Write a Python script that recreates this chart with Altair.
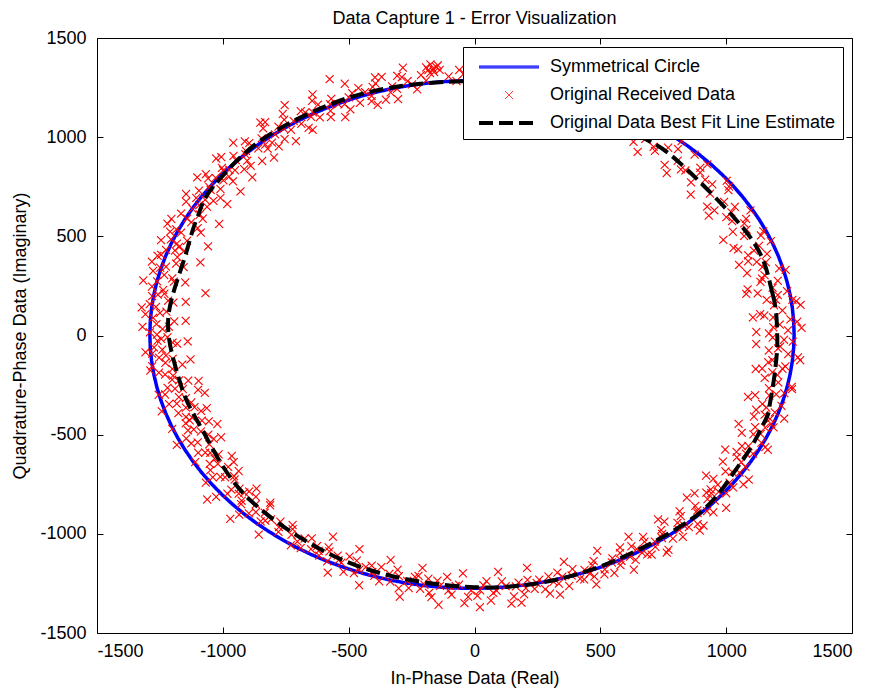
import altair as alt
import numpy as np
import pandas as pd

FONT = "Liberation Sans"
SERIES = ["Symmetrical Circle", "Original Received Data", "Original Data Best Fit Line Estimate"]
COLORS = ["#0000ff", "#ff0000", "#000000"]
X_PATH = "M-0.8,-0.8L0.8,0.8M-0.8,0.8L0.8,-0.8"
SOLID_PATH = "M-6,-0.2H6M-6,0H6M-6,0.2H6"
THICK_PATH = "M-6,-0.3H6M-6,-0.1H6M-6,0.1H6M-6,0.3H6"
SHAPES = [SOLID_PATH, X_PATH, THICK_PATH]
DASHES = [[1, 0], [1, 0], [14, 6]]
TICKS = [-1500, -1000, -500, 0, 500, 1000, 1500]

# Symmetrical circle (center and radius)
circle_center = (-10, 5)
circle_radius = 1280
circle_deg = list(range(0, 361, 3))

# Best-fit line: radius at angle (deg)
fit_deg = [0, 10, 24, 47, 58, 75, 90, 110, 129, 144, 152, 160, 176, 190, 202, 223,
           247, 270, 290, 313, 329, 340, 344, 352]
fit_r = [1203, 1203, 1203, 1193, 1201, 1245, 1282, 1298, 1300, 1281, 1250, 1219, 1220,
         1195, 1182, 1218, 1250, 1269, 1270, 1265, 1237, 1232, 1222, 1207]

# Received data points (angle deg, radius)
pts_deg = [
    0.5, 1.2, 2.6, 3.1, 4.4, 5.0, 5.9, 7.3, 8.1, 8.8, 9.6,
    10.7, 11.5, 12.9, 13.4, 14.8, 15.6, 16.2, 17.7, 18.3, 19.5,
    20.4, 21.8, 22.5, 23.9, 25.1, 26.3, 27.0, 28.6, 29.4,
    30.8, 32.1, 33.5, 34.2, 36.0, 37.4, 38.9,
    40.6, 41.9, 43.3, 44.8, 46.2, 47.5, 48.7,
    50.9, 52.4, 54.0, 55.6, 57.1, 58.8,
    61.2, 63.5, 65.8, 67.4, 69.0,
    71.3, 73.9, 76.2, 78.5,
    80.7, 82.9, 84.6, 86.3, 88.1, 89.4,
    90.6, 91.8, 93.2, 94.5, 95.9, 96.4, 96.9, 97.3, 97.8, 98.5, 99.2,
    100.4, 101.7, 102.5, 103.9, 104.6, 105.8, 106.5, 107.9, 108.7, 109.5,
    110.3, 111.2, 112.6, 113.4, 114.0, 114.9, 115.5, 116.8, 117.4, 118.6, 119.7,
    120.5, 121.4, 122.2, 123.6, 124.3, 125.1, 126.5, 127.3, 128.0, 128.8, 129.6,
    130.4, 131.1, 132.3, 133.0, 133.8, 134.9, 135.7, 136.6, 137.5, 138.2, 139.4,
    140.2, 141.0, 141.9, 142.7, 143.8, 144.6, 145.5, 146.3, 147.4, 148.6, 149.5,
    150.3, 151.4, 152.2, 153.1, 154.5, 155.2, 156.0, 157.3, 158.1, 159.2,
    160.6, 161.5, 162.3, 163.4, 164.2, 165.7, 166.5, 167.8, 168.7, 169.5,
    170.3, 171.2, 172.1, 173.5, 174.4, 175.3, 176.6, 177.4, 178.5, 179.3,
    180.4, 181.2, 182.0, 183.3, 184.1, 185.6, 186.4, 187.2, 188.5, 189.6,
    190.5, 191.3, 192.2, 193.1, 194.0, 194.8, 195.9, 196.7, 197.6, 198.4, 199.3,
    200.2, 201.1, 202.3, 203.0, 204.4, 205.3, 206.1, 207.5, 208.3, 209.4,
    210.5, 211.6, 212.4, 213.7, 214.5, 215.8, 216.6, 217.9, 218.8, 219.6,
    220.4, 221.3, 222.5, 223.6, 224.4, 225.7, 226.5, 227.8, 228.9,
    230.6, 231.8, 232.9, 234.1, 235.4, 236.6, 237.7, 238.9,
    240.3, 241.5, 242.8, 243.9, 245.2, 246.4, 247.6, 248.8, 249.7,
    250.6, 251.8, 253.0, 254.3, 255.5, 256.7, 257.8, 259.0,
    260.4, 261.5, 262.6, 263.8, 264.9, 266.0, 267.2, 268.3, 269.4,
    270.5, 271.6, 272.8, 273.9, 275.0, 276.2, 277.4, 278.6, 279.7,
    280.6, 281.8, 283.0, 284.2, 285.4, 286.6, 287.7, 288.9,
    290.3, 291.4, 292.6, 293.7, 294.9, 296.0, 297.2, 298.4, 299.5,
    300.4, 301.3, 302.5, 303.4, 304.6, 305.5, 306.7, 307.6, 308.8, 309.7,
    310.5, 311.4, 312.6, 313.5, 314.7, 315.6, 316.8, 317.7, 318.9, 319.8,
    320.4, 321.5, 322.7, 323.8, 324.9, 326.1, 327.2, 328.4, 329.5,
    330.6, 331.7, 332.9, 334.0, 335.2, 336.4, 337.5, 338.7, 339.8,
    340.3, 341.5, 342.6, 343.8, 344.9, 346.1, 347.2, 348.4, 349.5,
    350.6, 351.7, 352.8, 354.0, 355.1, 356.3, 357.4, 358.6, 359.5,
    0.9, 2.0, 3.7, 5.4, 6.8, 8.5,
    10.2, 12.1, 14.1, 16.8, 19.0,
    21.1, 23.2, 24.6, 27.8,
    31.3, 35.1, 37.9,
    42.5, 45.6, 49.3,
    53.2, 56.4, 59.5,
    62.3, 66.5,
    92.6, 96.1, 97.0, 97.6, 98.1,
    101.1, 103.2, 105.2, 107.2, 109.1,
    111.7, 113.9, 116.2, 118.1, 119.2,
    120.9, 122.8, 124.8, 126.0, 127.7, 129.2,
    130.8, 132.7, 134.3, 136.1, 137.0, 138.8, 139.9,
    140.6, 142.3, 143.2, 145.0, 146.8, 147.9, 149.0,
    150.8, 152.7, 153.8, 155.7, 156.6, 158.6, 159.7,
    160.2, 161.9, 163.0, 164.7, 166.1, 167.2, 169.1,
    170.7, 171.8, 173.0, 174.8, 176.0, 177.9, 179.8,
    180.8, 181.7, 182.7, 184.7, 185.1, 186.9, 188.0, 189.1,
    190.9, 192.7, 193.6, 195.4, 196.2, 198.0, 199.7,
    200.7, 201.6, 202.8, 204.0, 205.8, 206.7, 208.9,
    211.0, 212.9, 214.1, 215.2, 217.3, 219.1,
    220.9, 222.0, 223.1, 225.0, 227.0, 228.3,
    231.2, 233.5, 235.9, 237.2, 239.5,
    240.9, 242.1, 244.5, 246.0, 248.2,
    251.2, 252.4, 254.9, 256.1, 258.4, 259.6,
    261.0, 262.1, 263.2, 265.4, 266.6, 268.9,
    271.0, 272.2, 273.3, 275.6, 276.8, 278.0, 279.1,
    281.2, 282.4, 283.6, 285.0, 286.0, 288.3, 289.5,
    290.9, 292.0, 293.2, 295.5, 296.6, 297.8, 299.0,
    300.9, 301.9, 303.0, 304.0, 306.1, 307.1, 309.2,
    311.0, 312.0, 313.0, 315.1, 316.2, 318.3, 319.3,
    320.9, 322.1, 323.3, 325.5, 326.7, 328.9,
    331.1, 332.3, 334.6, 335.8, 338.1, 339.3,
    340.9, 342.0, 343.2, 345.5, 346.7, 348.9,
    351.1, 352.2, 353.4, 355.7, 356.9, 359.0,
    161.3, 163.8, 166.9, 168.1, 171.6, 173.9, 176.3, 178.1, 181.5, 183.7,
    186.1, 187.8, 191.8, 193.4, 195.1, 197.1, 199.0, 201.4, 203.6, 205.0,
    207.0, 209.9, 212.2, 214.8, 216.1, 218.4, 221.7, 224.0, 226.1, 229.5,
    101.9, 104.3, 106.9, 108.3, 112.1, 115.0, 117.9, 121.8, 123.0, 125.9,
    128.4, 131.6, 134.6, 137.9, 139.0, 142.0, 144.1, 146.0, 148.1, 151.0,
    154.0, 157.0, 158.9,
    241.0, 244.0, 247.0, 250.0, 253.6, 257.3, 260.0, 264.0, 267.8, 270.9,
    274.5, 277.9, 280.1, 284.6, 287.3, 291.1, 294.2, 298.2,
    301.1, 304.9, 308.2, 312.3, 315.9, 319.0, 322.5, 326.3, 330.0, 333.7,
    337.0, 341.2, 344.1,
    347.9, 351.4, 354.5, 357.8, 1.7, 4.7, 7.7, 11.0, 15.0, 18.7,
    22.0, 26.0, 29.9, 33.0, 36.6, 39.6, 43.0, 47.0, 50.0, 55.0,
]
pts_r = [
    1170, 1246, 1214, 1284, 1190, 1156, 1230, 1200, 1276, 1175, 1222,
    1145, 1209, 1236, 1168, 1192, 1257, 1128, 1215, 1181, 1233,
    1160, 1218, 1134, 1245, 1183, 1206, 1152, 1229, 1175,
    1165, 1221, 1143, 1199, 1247, 1178, 1214,
    1207, 1156, 1233, 1181, 1264, 1195, 1145,
    1220, 1175, 1249, 1201, 1163, 1232,
    1190, 1245, 1221, 1276, 1204,
    1228, 1285, 1257, 1305,
    1298, 1260, 1333, 1288, 1316, 1370,
    1296, 1322, 1285, 1310, 1346, 1362, 1338, 1378, 1351, 1300, 1330,
    1262, 1310, 1334, 1281, 1298, 1355, 1240, 1317, 1275, 1302,
    1330, 1258, 1301, 1242, 1415, 1286, 1322, 1269, 1240, 1348, 1295,
    1280, 1325, 1237, 1298, 1352, 1268, 1310, 1245, 1287, 1340, 1262,
    1305, 1250, 1276, 1338, 1219, 1290, 1262, 1318, 1241, 1350, 1283,
    1300, 1235, 1268, 1342, 1251, 1293, 1225, 1316, 1270, 1245, 1330,
    1290, 1230, 1318, 1262, 1205, 1344, 1276, 1238, 1300, 1256,
    1300, 1245, 1322, 1206, 1274, 1318, 1235, 1290, 1090, 1258,
    1250, 1296, 1208, 1274, 1230, 1312, 1195, 1265, 1240, 1290,
    1220, 1260, 1182, 1243, 1284, 1205, 1236, 1170, 1268, 1215,
    1222, 1160, 1248, 1190, 1132, 1215, 1262, 1175, 1203, 1240, 1151,
    1196, 1230, 1141, 1212, 1258, 1170, 1225, 1188, 1247, 1205,
    1180, 1235, 1208, 1150, 1262, 1222, 1190, 1346, 1240, 1212,
    1230, 1192, 1258, 1340, 1216, 1244, 1180, 1265, 1230,
    1215, 1260, 1198, 1240, 1285, 1226, 1210, 1258,
    1250, 1215, 1280, 1236, 1262, 1300, 1228, 1268, 1245,
    1230, 1275, 1296, 1248, 1220, 1310, 1266, 1240,
    1295, 1240, 1330, 1270, 1222, 1310, 1258, 1350, 1286,
    1312, 1260, 1338, 1290, 1245, 1360, 1276, 1320, 1250,
    1300, 1258, 1335, 1281, 1240, 1318, 1270, 1296,
    1260, 1305, 1232, 1288, 1320, 1250, 1278, 1215, 1300,
    1232, 1282, 1310, 1217, 1262, 1327, 1248, 1292, 1204, 1274,
    1242, 1288, 1204, 1322, 1260, 1228, 1302, 1182, 1267, 1232,
    1218, 1278, 1193, 1256, 1306, 1233, 1174, 1264, 1210,
    1195, 1257, 1223, 1285, 1170, 1241, 1207, 1275, 1183,
    1247, 1180, 1215, 1270, 1155, 1235, 1200, 1287, 1173,
    1220, 1155, 1245, 1190, 1290, 1172, 1216, 1265, 1185,
    1120, 1188, 1258, 1140, 1305, 1212,
    1262, 1110, 1178, 1195, 1150,
    1190, 1120, 1262, 1212,
    1195, 1130, 1270,
    1216, 1172, 1240,
    1188, 1270, 1205,
    1232, 1180,
    1340, 1370, 1355, 1335, 1365,
    1290, 1345, 1270, 1330, 1250,
    1315, 1275, 1300, 1320, 1260,
    1310, 1270, 1325, 1290, 1360, 1230,
    1272, 1320, 1300, 1234, 1296, 1265, 1312,
    1262, 1300, 1322, 1280, 1240, 1305, 1276,
    1250, 1285, 1226, 1300, 1318, 1270, 1230,
    1265, 1310, 1240, 1295, 1270, 1225, 1305,
    1275, 1230, 1300, 1255, 1280, 1215, 1262,
    1245, 1200, 1275, 1230, 1258, 1290, 1212, 1245,
    1195, 1220, 1265, 1190, 1232, 1170, 1218,
    1210, 1165, 1235, 1190, 1250, 1160, 1222,
    1205, 1250, 1182, 1236, 1198, 1265,
    1210, 1245, 1190, 1268, 1222, 1250,
    1240, 1215, 1255, 1275, 1232,
    1270, 1232, 1255, 1220, 1290,
    1260, 1225, 1285, 1250, 1300, 1232,
    1272, 1310, 1245, 1290, 1265, 1318,
    1285, 1240, 1300, 1270, 1325, 1258, 1290,
    1272, 1310, 1250, 1295, 1265, 1240, 1305,
    1285, 1250, 1310, 1268, 1295, 1240, 1275,
    1255, 1300, 1240, 1285, 1265, 1230, 1310,
    1270, 1225, 1300, 1250, 1280, 1240, 1215,
    1250, 1225, 1282, 1210, 1260, 1238,
    1232, 1200, 1262, 1215, 1245, 1260,
    1220, 1255, 1195, 1210, 1265, 1230,
    1198, 1235, 1175, 1250, 1208, 1230,
    1150, 1335, 1180, 1345, 1160, 1330, 1150, 1320, 1140, 1310,
    1135, 1300, 1120, 1290, 1110, 1300, 1125, 1290, 1115, 1305,
    1130, 1280, 1140, 1300, 1160, 1310, 1160, 1300, 1170, 1320,
    1380, 1230, 1360, 1225, 1370, 1215, 1375, 1220, 1385, 1210,
    1370, 1200, 1365, 1190, 1360, 1180, 1360, 1185, 1350, 1160,
    1340, 1150, 1335,
    1160, 1330, 1170, 1340, 1180, 1350, 1190, 1365, 1200, 1370,
    1195, 1360, 1190, 1350, 1195, 1345, 1190, 1340,
    1185, 1335, 1180, 1330, 1175, 1325, 1160, 1310, 1150, 1300,
    1140, 1300, 1130,
    1290, 1130, 1300, 1120, 1300, 1110, 1290, 1100, 1280, 1110,
    1270, 1100, 1265, 1110, 1260, 1115, 1265, 1120, 1280, 1130,
]


def polar_frame(deg, rad, series, cx=0.0, cy=0.0):
    a = np.radians(np.asarray(deg, dtype=float))
    r = np.asarray(rad, dtype=float)
    return pd.DataFrame({
        "x": cx + r * np.cos(a),
        "y": cy + r * np.sin(a),
        "ord": np.arange(len(a)),
        "series": series,
    })


circle_df = polar_frame(circle_deg, [circle_radius] * len(circle_deg), SERIES[0], *circle_center)
pts_df = polar_frame(pts_deg, pts_r, SERIES[1])
fit_df = polar_frame(fit_deg, fit_r, SERIES[2])

legend = alt.Legend(title=" ", titleFontSize=1, titlePadding=3, orient="top-right", offset=9,
                    symbolStrokeWidth=1, labelLimit=500, symbolOpacity=1)
color = alt.Color("series:N", scale=alt.Scale(domain=SERIES, range=COLORS), legend=legend)
dash = alt.StrokeDash("series:N", scale=alt.Scale(domain=SERIES, range=DASHES), legend=legend)
shape = alt.Shape("series:N", scale=alt.Scale(domain=SERIES, range=SHAPES), legend=legend)

xs = alt.Scale(domain=[-1500, 1500], nice=False, zero=False)
ys = alt.Scale(domain=[-1500, 1500], nice=False, zero=False)

common_axis = dict(values=TICKS, tickSize=6, offset=-6, domain=False, grid=False,
                   tickColor="black", tickWidth=1, labelColor="black", labelFont=FONT,
                   labelFontSize=18, titleFont=FONT, titleFontSize=18,
                   titleFontWeight="normal", titleColor="black",
                   labelExpr="'' + datum.value")

x_bottom = alt.Axis(orient="bottom", labelPadding=9, title="In-Phase Data (Real)",
                    titleY=51, titleBaseline="middle", **common_axis)
y_left = alt.Axis(orient="left", labelPadding=11, title="Quadrature-Phase Data (Imaginary)",
                  titleX=-83, titleAngle=270, titleBaseline="middle", **common_axis)
top_axis = dict(common_axis)
top_axis.pop("labelExpr")
x_top = alt.Axis(orient="top", labels=False, title=None, **top_axis)
y_right = alt.Axis(orient="right", labels=False, title=None, **top_axis)

circle_layer = alt.Chart(circle_df).mark_line(strokeCap="butt", strokeWidth=3.5).encode(
    x=alt.X("x:Q", scale=xs, axis=x_bottom),
    y=alt.Y("y:Q", scale=ys, axis=y_left),
    order="ord:Q",
    color=color, strokeDash=dash,
)

pts_layer = alt.Chart(pts_df).mark_point(filled=False, size=100, opacity=1, strokeWidth=1.1).encode(
    x=alt.X("x:Q", scale=xs, axis=x_top),
    y=alt.Y("y:Q", scale=ys, axis=y_right),
    color=color, strokeDash=dash, shape=shape,
)

fit_layer = alt.Chart(fit_df).mark_line(strokeCap="butt", strokeWidth=4,
                                        interpolate="cardinal-closed").encode(
    x=alt.X("x:Q", scale=xs, axis=None),
    y=alt.Y("y:Q", scale=ys, axis=None),
    order="ord:Q",
    color=color, strokeDash=dash,
)

chart = alt.layer(circle_layer, pts_layer, fit_layer).resolve_axis(
    x="independent", y="independent"
).properties(
    width=755, height=595,
    background="white",
    autosize=alt.AutoSizeParams(type="none"),
    padding={"left": 97, "top": 38, "right": 22, "bottom": 57},
    title=alt.Title("Data Capture 1 - Error Visualization", fontSize=18, fontWeight="normal",
                    font=FONT, color="black", anchor="middle", offset=1),
).configure_view(stroke="black", strokeWidth=1).configure_legend(
    symbolSize=100, labelFont=FONT, labelFontSize=18, labelColor="black",
    padding=7, rowPadding=10, symbolOffset=30, labelOffset=32,
    fillColor="white", strokeColor="black", cornerRadius=0, symbolFillColor="transparent",
)

chart.save("out.html", embed_options={"renderer": "svg", "actions": False})
